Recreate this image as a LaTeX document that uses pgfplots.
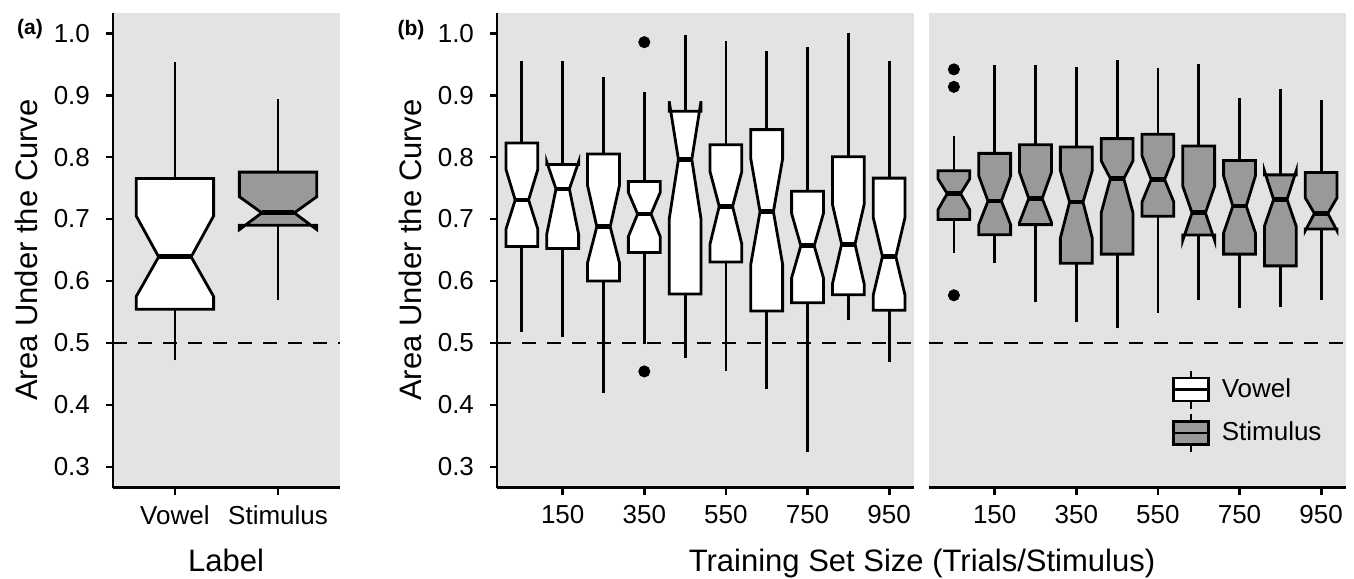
\documentclass[border=0pt]{standalone}
\usepackage{pgfplots}
\pgfplotsset{compat=1.18}
\usepackage{fontspec}
\setmainfont{Liberation Sans}
\definecolor{bggray}{HTML}{E3E3E3}
\definecolor{boxgray}{HTML}{999999}

\pgfplotsset{
  panel/.style={
    scale only axis, height=237.35pt,
    ymin=0.2665, ymax=1.0325,
    axis background/.style={fill=bggray},
    axis x line*=bottom, axis y line*=left,
    axis line style={line width=1.4pt,-},
    tick align=outside, major tick length=3.5pt,
    every tick/.style={black,line width=1.4pt},
    ytick={0.3,0.4,0.5,0.6,0.7,0.8,0.9,1.0},
    /pgf/number format/assume math mode=true,
    tick label style={font=\fontsize{13}{15}\selectfont},
    yticklabel style={xshift=-4.5pt,/pgf/number format/.cd,fixed,fixed zerofill,precision=1},
    xticklabel style={yshift=-2pt},
  },
  whisk/.style={black,line width=1.4pt,forget plot},
  boxst/.style={draw=black,line width=1.4pt,line join=miter,forget plot},
  medst/.style={black,line width=2.4pt,forget plot},
  dashline/.style={black,line width=1.2pt,dash pattern=on 7pt off 5.5pt,forget plot},
  outl/.style={only marks,mark=*,mark size=2.8pt,black,forget plot},
}

% notched box: x, half width, whisker lo, q1, notch lo, median, notch hi, q3, whisker hi
\newcommand\nbox[9]{%
  \pgfmathsetmacro\xl{#1-#2}%
  \pgfmathsetmacro\xr{#1+#2}%
  \pgfmathsetmacro\il{#1-0.42*#2}%
  \pgfmathsetmacro\ir{#1+0.42*#2}%
  \edef\tmp{%
    \noexpand\addplot[whisk] coordinates {(#1,#8) (#1,#9)};
    \noexpand\addplot[whisk] coordinates {(#1,#3) (#1,#4)};
    \noexpand\addplot[boxst,fill=\bfill] coordinates {(\xl,#8) (\xl,#7) (\il,#6) (\xl,#5) (\xl,#4) (\xr,#4) (\xr,#5) (\ir,#6) (\xr,#7) (\xr,#8)} -- cycle;
    \noexpand\addplot[medst] coordinates {(\il,#6) (\ir,#6)};
  }\tmp}

\begin{document}
\begin{tikzpicture}
\useasboundingbox (0,0) rectangle (677pt,289pt);

% (a)
\begin{axis}[panel, at={(56.5pt,45.15pt)}, anchor=south west, width=113.5pt,
  xmin=0.4, xmax=2.6, xtick={1,2}, xticklabels={Vowel,Stimulus}]
  \addplot[dashline] coordinates {(0.4,0.5) (2.6,0.5)};
  \def\bfill{white}
  \nbox{1}{0.375}{0.472}{0.5545}{0.575}{0.639}{0.705}{0.7655}{0.954}
  \def\bfill{boxgray}
  \nbox{2}{0.375}{0.569}{0.690}{0.683}{0.710}{0.736}{0.7757}{0.8935}
\end{axis}

% (b) vowel
\begin{axis}[panel, at={(248.5pt,45.15pt)}, anchor=south west, width=208.5pt,
  xmin=-11, xmax=1011, xtick={150,350,550,750,950}]
  \addplot[dashline] coordinates {(-11,0.5) (1011,0.5)};
  \def\bfill{white}
  \nbox{50}{39}{0.5176}{0.6557}{0.6838}{0.7308}{0.780}{0.8227}{0.955}
  \nbox{150}{39}{0.5095}{0.6524}{0.6757}{0.7486}{0.792}{0.788}{0.955}
  \nbox{250}{39}{0.420}{0.600}{0.6297}{0.6876}{0.754}{0.8049}{0.9286}
  \nbox{350}{39}{0.4976}{0.646}{0.6719}{0.7081}{0.743}{0.7605}{0.9054}
  \nbox{450}{39}{0.4759}{0.579}{0.700}{0.7962}{0.890}{0.874}{0.997}
  \nbox{550}{39}{0.4553}{0.6308}{0.6595}{0.7205}{0.7768}{0.820}{0.9876}
  \nbox{650}{39}{0.4255}{0.5517}{0.627}{0.7119}{0.7973}{0.8443}{0.9719}
  \nbox{750}{39}{0.3236}{0.5648}{0.605}{0.6568}{0.709}{0.7449}{0.9784}
  \nbox{850}{39}{0.5366}{0.578}{0.595}{0.6595}{0.724}{0.8005}{1.000}
  \nbox{950}{39}{0.4699}{0.5528}{0.577}{0.6395}{0.7027}{0.766}{0.955}
  \addplot[outl] coordinates {(350,0.9854) (350,0.4541)};
\end{axis}

% (b) stimulus
\begin{axis}[panel, at={(464.5pt,45.15pt)}, anchor=south west, width=208.5pt,
  axis y line=none,
  xmin=-11, xmax=1011, xtick={150,350,550,750,950},
  legend style={at={(0.5827,0.25)}, anchor=north west, draw=none, fill=none,
    inner sep=0pt, font=\fontsize{13}{15}\selectfont, row sep=1.5pt, column sep=4pt},
  legend cell align=left]
  \addplot[dashline] coordinates {(-11,0.5) (1011,0.5)};
  \def\bfill{boxgray}
  \nbox{50}{39}{0.645}{0.6992}{0.715}{0.741}{0.765}{0.7778}{0.8347}
  \nbox{150}{39}{0.6287}{0.6748}{0.691}{0.729}{0.7696}{0.806}{0.9485}
  \nbox{250}{39}{0.5664}{0.691}{0.6949}{0.7333}{0.7751}{0.820}{0.9485}
  \nbox{350}{39}{0.5338}{0.6287}{0.6694}{0.7274}{0.7778}{0.8163}{0.9458}
  \nbox{450}{39}{0.524}{0.6434}{0.710}{0.7653}{0.794}{0.8298}{0.9566}
  \nbox{550}{39}{0.5485}{0.7046}{0.7274}{0.7637}{0.8021}{0.8369}{0.9442}
  \nbox{650}{39}{0.569}{0.6743}{0.6656}{0.710}{0.753}{0.8179}{0.9496}
  \nbox{750}{39}{0.5566}{0.6434}{0.6775}{0.7209}{0.7696}{0.7946}{0.8954}
  \nbox{850}{39}{0.5583}{0.6244}{0.6883}{0.7317}{0.7778}{0.7713}{0.9095}
  \nbox{950}{39}{0.569}{0.684}{0.681}{0.709}{0.7344}{0.7751}{0.8927}
  \addplot[outl] coordinates {(50,0.9415) (50,0.9133) (50,0.577)};
  \addlegendimage{legend image code/.code={
    \draw[line width=1.2pt,fill=white] (0pt,-5.75pt) rectangle (17.5pt,5.75pt);
    \draw[line width=1.2pt] (0pt,0pt) -- (17.5pt,0pt);
    \draw[line width=1.2pt] (8.75pt,5.75pt) -- (8.75pt,9.5pt) (8.75pt,-5.75pt) -- (8.75pt,-9.5pt);}}
  \addlegendentry{Vowel}
  \addlegendimage{legend image code/.code={
    \draw[line width=1.2pt,fill=boxgray] (0pt,-5.75pt) rectangle (17.5pt,5.75pt);
    \draw[line width=1.2pt] (0pt,0pt) -- (17.5pt,0pt);
    \draw[line width=1.2pt] (8.75pt,5.75pt) -- (8.75pt,9.5pt) (8.75pt,-5.75pt) -- (8.75pt,-9.5pt);}}
  \addlegendentry{Stimulus}
\end{axis}

\node[rotate=90,anchor=base,font=\fontsize{15.5}{18}\selectfont] at (18.5pt,164pt) {Area Under the Curve};
\node[rotate=90,anchor=base,font=\fontsize{15.5}{18}\selectfont] at (210.5pt,164pt) {Area Under the Curve};
\node[anchor=base,font=\fontsize{15.5}{18}\selectfont] at (113pt,3pt) {Label};
\node[anchor=base,font=\fontsize{15.5}{18}\selectfont] at (461pt,3pt) {Training Set Size (Trials/Stimulus)};
\node[font=\fontsize{10.5}{12}\selectfont\bfseries] at (15pt,274.5pt) {(a)};
\node[font=\fontsize{10.5}{12}\selectfont\bfseries] at (205.5pt,274pt) {(b)};
\end{tikzpicture}
\end{document}
